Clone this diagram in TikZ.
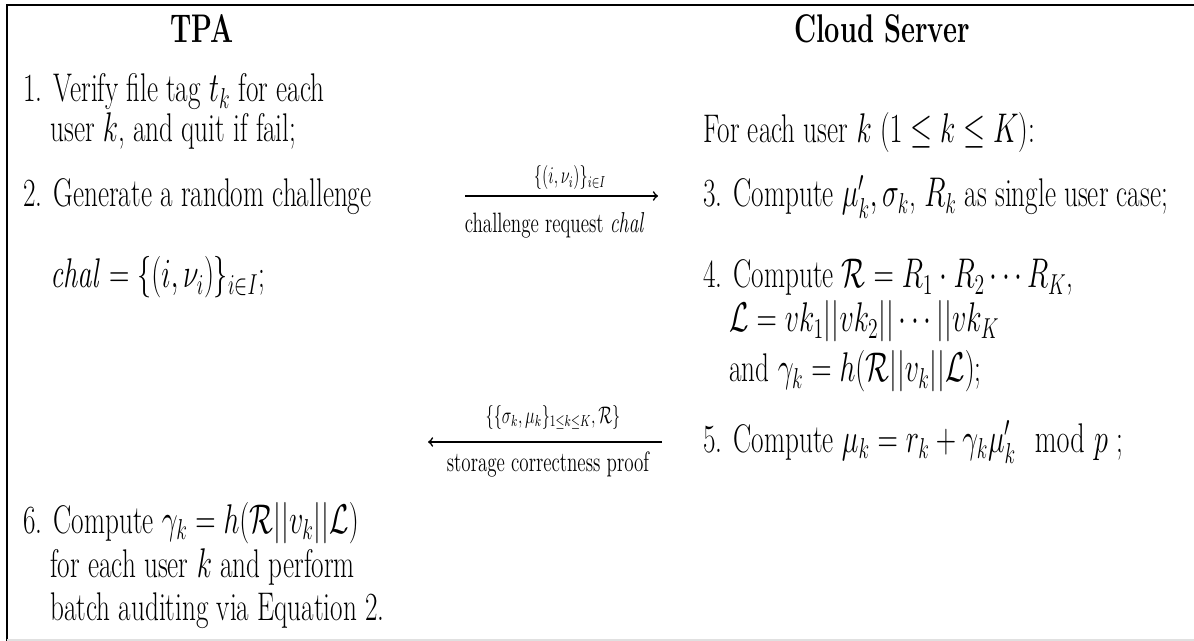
\documentclass[tikz,border=0pt]{standalone}
\usepackage{amsmath}
\usepackage{tikz}
\usetikzlibrary{positioning}
\newcommand{\cnd}[1]{\scalebox{0.68}[1]{#1}}
\tikzset{
  step txt/.style={anchor=base west, inner sep=0pt, font=\fontsize{20}{21}\selectfont},
  head txt/.style={anchor=base, inner sep=0pt, font=\fontsize{20}{21}\selectfont\bfseries},
  msg txt/.style={anchor=base, inner sep=0pt, font=\fontsize{14}{15}\selectfont},
  msg data/.style={anchor=base, inner sep=0pt, font=\fontsize{12}{13}\selectfont},
  msg/.style={->, line width=0.8pt}
}

\begin{document}
\begin{tikzpicture}[x=0.5pt,y=-0.5pt]
        \useasboundingbox (0,0) rectangle (1194,641);
        \draw[line width=1.4pt] (7,641) -- (7,5) -- (1194,5);
        \draw[black!12, line width=0.6pt] (7,640) -- (1194,640);
        % headers
        \node[head txt] (tpa) at (202,43) {\cnd{TPA}};
        \node[head txt] (cloud) at (882,43) {\cnd{Cloud Server}};
        % TPA side
        \node[step txt] (s1a) at (23,102) {\cnd{1. Verify file tag $t_k$ for each}};
        \node[step txt] (s1b) at (50,142) {\cnd{user $k$, and quit if fail;}};
        \node[step txt] (s2a) at (23,207) {\cnd{2. Generate a random challenge}};
        \node[step txt] (s2b) at (50,288) {\cnd{$\mathit{chal}=\{(i,\nu_i)\}_{i\in I}$;}};
        \node[step txt] (s6a) at (23,533) {\cnd{6. Compute $\gamma_k=h(\mathcal{R}||v_k||\mathcal{L})$}};
        \node[step txt] (s6b) at (50,577) {\cnd{for each user $k$ and perform}};
        \node[step txt] (s6c) at (50,620) {\cnd{batch auditing via Equation 2.}};
        % server side
        \node[step txt] (each) at (703,143) {\cnd{For each user $k$ ($1\leq k\leq K$):}};
        \node[step txt] (s3) at (703,207) {\cnd{3. Compute $\mu'_k,\sigma_k$, $R_k$ as single user case;}};
        \node[step txt] (s4a) at (703,288) {\cnd{4. Compute $\mathcal{R}=R_1\cdot R_2\cdots R_K$,}};
        \node[step txt] (s4b) at (729,332) {\cnd{$\mathcal{L}=vk_1||vk_2||\cdots||vk_K$}};
        \node[step txt] (s4c) at (729,382) {\cnd{and $\gamma_k=h(\mathcal{R}||v_k||\mathcal{L})$;}};
        \node[step txt] (s5) at (703,452) {\cnd{5. Compute $\mu_k=r_k+\gamma_k\mu'_k\mod p$ ;}};
        % messages
        \coordinate (chalL) at (465,196);
        \coordinate (chalR) at (658,196);
        \node[msg data] (chaltop) at (570,184) {\cnd{$\{(i,\nu_i)\}_{i\in I}$}};
        \node[msg txt] (chalbot) at (555,233) {\cnd{challenge request $\mathit{chal}$}};
        \draw[msg] (chalL) -- (chalR);
        \coordinate (proofL) at (428,442);
        \coordinate (proofR) at (662,442);
        \node[msg data] (prooftop) at (553,423) {\cnd{$\{\{\sigma_k,\mu_k\}_{1\leq k\leq K},\mathcal{R}\}$}};
        \node[msg txt] (proofbot) at (548,472) {\cnd{storage correctness proof}};
        \draw[msg] (proofR) -- (proofL);
\end{tikzpicture}
\end{document}
